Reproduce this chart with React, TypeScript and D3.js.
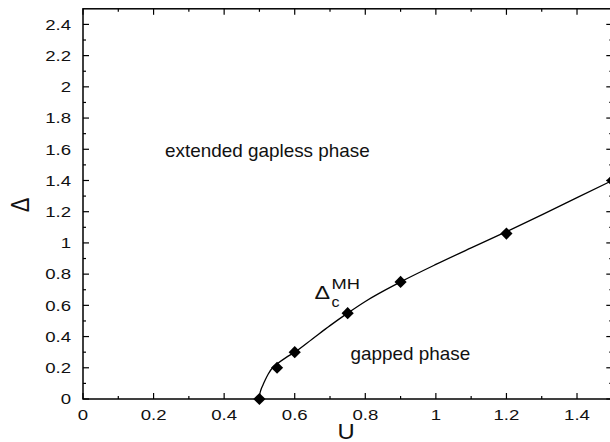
import React from "react";
import * as d3 from "d3";

const W = 610;
const H = 442;

// measured diamond points (U, Delta)
const pointU = [0.5, 0.55, 0.6, 0.75, 0.9, 1.2, 1.5];
const pointD = [0, 0.2, 0.3, 0.55, 0.75, 1.06, 1.4];

// the fitted phase boundary
const curveU = [0.5, 0.501, 0.503, 0.506, 0.51, 0.516, 0.525, 0.539, 0.55, 0.575, 0.6, 0.65, 0.7, 0.75, 0.8, 0.9, 1.0, 1.1, 1.2, 1.3, 1.4, 1.5];
const curveD = [0, 0.03, 0.05, 0.07, 0.09, 0.12, 0.16, 0.205, 0.225, 0.265, 0.3, 0.385, 0.47, 0.55, 0.625, 0.75, 0.862, 0.968, 1.072, 1.18, 1.29, 1.4];

const xTickLabels = ["0", "0.2", "0.4", "0.6", "0.8", "1", "1.2", "1.4"];
const yTickLabels = ["0", "0.2", "0.4", "0.6", "0.8", "1", "1.2", "1.4", "1.6", "1.8", "2", "2.2", "2.4"];

const FONT = "'Liberation Sans', Arial, Helvetica, sans-serif";

export default function App() {
  const x = d3.scaleLinear().domain([0, 1.5]).range([83, 612.3]);
  const y = d3.scaleLinear().domain([0, 2.5]).range([399, 8.8]);

  const xMinor = d3.range(0, 15).map((i) => i / 10);
  const yMinor = d3.range(0, 25).map((i) => i / 10);

  const line = d3
    .line<number>()
    .x((_, i) => x(curveU[i]))
    .y((_, i) => y(curveD[i]))
    .curve(d3.curveMonotoneX);

  const diamond = d3.symbol().type(d3.symbolSquare).size(74)();

  const x0 = x(0), x1 = x(1.5), y0 = y(0), y1 = y(2.5);

  return (
    <svg
      width={W}
      height={H}
      style={{ position: "absolute", left: 0, top: 0, background: "#fff" }}
      fontFamily={FONT}
    >
      <rect x={0} y={0} width={W} height={H} fill="#fff" />
      {/* ticks */}
      <g stroke="#000" strokeWidth={1.2}>
        {xMinor.map((v, i) => {
          const len = i % 2 === 0 ? 6 : 3;
          return (
            <g key={"xt" + i}>
              <line x1={x(v)} x2={x(v)} y1={y0} y2={y0 - len} />
              <line x1={x(v)} x2={x(v)} y1={y1} y2={y1 + len} />
            </g>
          );
        })}
        {yMinor.map((v, i) => {
          const len = i % 2 === 0 ? 6 : 3;
          return (
            <g key={"yt" + i}>
              <line x1={x0} x2={x0 + len} y1={y(v)} y2={y(v)} />
              <line x1={x1} x2={x1 - len} y1={y(v)} y2={y(v)} />
            </g>
          );
        })}
      </g>
      {/* frame */}
      <rect x={x0} y={y1} width={x1 - x0} height={y0 - y1} fill="none" stroke="#000" strokeWidth={1.5} />

      {/* tick labels */}
      <g fontSize={15.5} fill="#111">
        {xTickLabels.map((t) => {
          const v = +t;
          return (
            <text key={"xl" + t} transform={`translate(${x(v)},419.5) scale(1.2,1)`} textAnchor="middle">
              {t}
            </text>
          );
        })}
        {yTickLabels.map((t) => {
          const v = +t;
          return (
            <text key={"yl" + t} transform={`translate(71,${y(v) + 5.3}) scale(1.2,1)`} textAnchor="end">
              {t}
            </text>
          );
        })}
      </g>

      {/* axis titles */}
      <text transform="translate(346,438.5) scale(1.08,1)" textAnchor="middle" fontSize={22} fill="#111">
        U
      </text>
      <text transform="translate(29,205) rotate(-90) scale(1,1.2)" textAnchor="middle" fontSize={22} fill="#111">
        Δ
      </text>

      {/* curve */}
      <path d={line(curveU) || ""} fill="none" stroke="#000" strokeWidth={1.3} />

      {/* diamonds */}
      {pointU.map((u, i) => (
        <path key={"p" + i} d={diamond || ""} transform={`translate(${x(u)},${y(pointD[i])}) rotate(45)`} fill="#000" />
      ))}

      {/* annotations */}
      <text transform="translate(165,157) scale(1.05,1)" fontSize={18} fill="#111">
        extended gapless phase
      </text>
      <text transform="translate(350.5,360) scale(1.05,1)" fontSize={18} fill="#111">
        gapped phase
      </text>
      <text transform="translate(314.5,298.5) scale(1.3,1)" fontSize={18} fill="#111">
        Δ
      </text>
      <text transform="translate(331.5,289.3) scale(1.18,1)" fontSize={15.5} fill="#111">
        MH
      </text>
      <text transform="translate(331.5,307) scale(1.15,1)" fontSize={14} fill="#111">
        c
      </text>
    </svg>
  );
}
